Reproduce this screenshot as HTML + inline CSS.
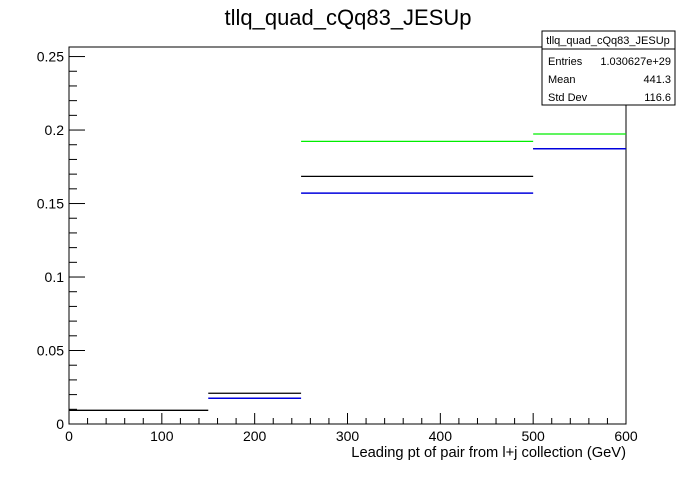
<!DOCTYPE html>
<html><head><meta charset="utf-8"><style>
body{margin:0;background:#fff;}
svg text{font-family:"Liberation Sans",sans-serif;}
</style></head><body>
<svg id="chart" width="696" height="472" viewBox="0 0 696 472">
<rect width="696" height="472" fill="#fff"/>
<text x="348" y="25" font-size="22" text-anchor="middle">tllq_quad_cQq83_JESUp</text>
<rect x="69" y="47" width="557" height="377" fill="none" stroke="#000" stroke-width="1"/>
<g id="axes"></g>
<g id="series"></g>
<text x="626" y="457" font-size="14.7" text-anchor="end">Leading pt of pair from l+j collection (GeV)</text>
<g>
<rect x="542" y="31" width="133" height="74" fill="#fff" stroke="#000"/>
<line x1="542" y1="49" x2="675" y2="49" stroke="#000"/>
<text x="608" y="44" font-size="11" text-anchor="middle">tllq_quad_cQq83_JESUp</text>
<text x="548" y="65" font-size="11">Entries</text><text x="671" y="65" font-size="11" text-anchor="end">1.030627e+29</text>
<text x="548" y="83" font-size="11">Mean</text><text x="671" y="83" font-size="11" text-anchor="end">441.3</text>
<text x="548" y="101" font-size="11">Std Dev</text><text x="671" y="101" font-size="11" text-anchor="end">116.6</text>
</g>
</svg>
<script>
const binEdges=[0,150,250,500,600];
const seriesBlack=[0.0093,0.0209,0.1685,0.1873];
const seriesBlue=[null,0.0175,0.1571,0.1873];
const seriesGreen=[null,null,0.1923,0.1973];
const xTicks=[0,100,200,300,400,500,600];
const yTicks=[0,0.05,0.1,0.15,0.2,0.25];
const yTickLabels=["0","0.05","0.1","0.15","0.2","0.25"];
const X0=69,X1=626,Y0=424,Y1=47,YMAX=0.2565;
const sx=v=>X0+(v/600)*(X1-X0);
const sy=v=>Y0-(v/YMAX)*(Y0-Y1);
const NS="http://www.w3.org/2000/svg";
const axes=document.getElementById('axes'),ser=document.getElementById('series');
function ln(p,x1,y1,x2,y2,c,w){const l=document.createElementNS(NS,'line');l.setAttribute('x1',x1);l.setAttribute('y1',y1);l.setAttribute('x2',x2);l.setAttribute('y2',y2);l.setAttribute('stroke',c);l.setAttribute('stroke-width',w);p.appendChild(l);return l;}
function tx(p,x,y,s,a){const t=document.createElementNS(NS,'text');t.setAttribute('x',x);t.setAttribute('y',y);t.setAttribute('font-size','14');t.setAttribute('text-anchor',a);t.textContent=s;p.appendChild(t);return t;}
for(let v=0;v<=600;v+=20){const x=sx(v);const major=v%100===0;const t=ln(axes,x,Y0,x,Y0-(major?11:6),'#000',1);

}
xTicks.forEach(v=>{const t=tx(axes,sx(v),441,String(v),'middle');

});
for(let v=0;v<=0.25001;v+=0.01){const y=sy(v);const major=Math.abs(v/0.05-Math.round(v/0.05))<1e-6;const t=ln(axes,X0,y,X0+(major?16:8),y,'#000',1);

}
yTicks.forEach((v,i)=>{const t=tx(axes,64,sy(v)+5,yTickLabels[i],'end');

});
function draw(vals,color,name,w){vals.forEach((v,i)=>{if(v==null)return;const l=ln(ser,sx(binEdges[i]),sy(v),sx(binEdges[i+1]),sy(v),color,w);

});}
draw(seriesGreen,'#00ee00','green-series',1.3);
draw(seriesBlack,'#000','black-series',1.3);
draw(seriesBlue,'#0000dd','blue-series',1.5);
</script>
</body></html>
